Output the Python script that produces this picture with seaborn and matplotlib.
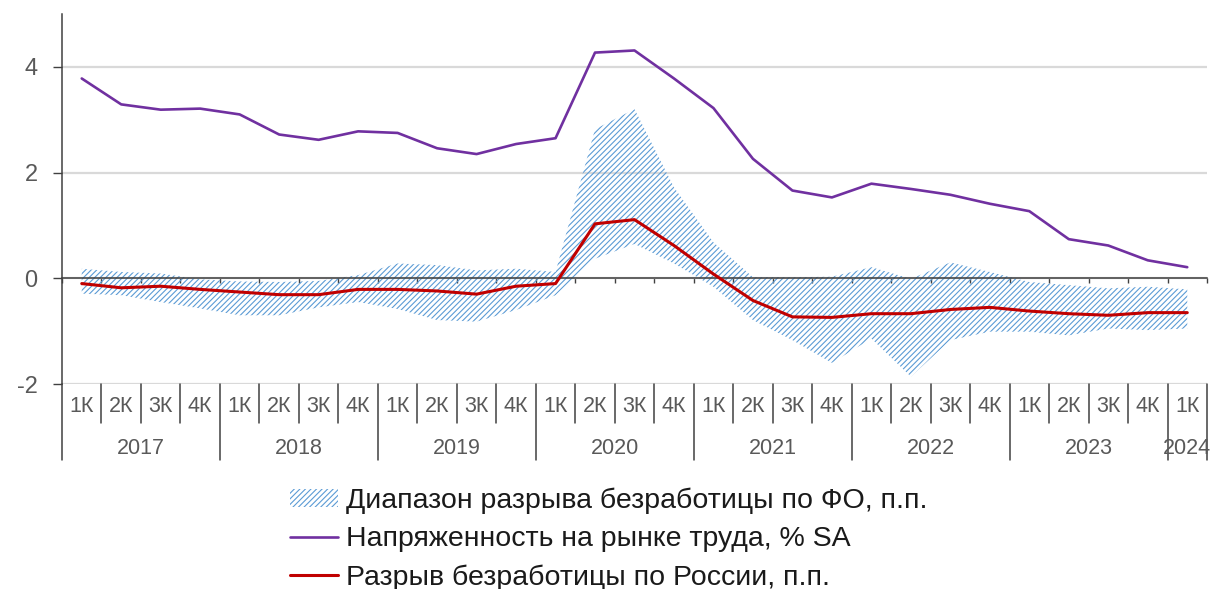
import numpy as np
import pandas as pd
import seaborn as sns
import matplotlib
matplotlib.use("Agg")
import matplotlib.pyplot as plt
import matplotlib.transforms as mtransforms
from matplotlib.patches import Patch
from matplotlib.lines import Line2D

# данные по кварталам: 1К 2017 - 1К 2024
years = ['2017', '2018', '2019', '2020', '2021', '2022', '2023', '2024']
quarters_per_year = [4, 4, 4, 4, 4, 4, 4, 1]
quarter_labels = ['1К', '2К', '3К', '4К'] * 7 + ['1К']

# напряженность на рынке труда, % SA
tension = [3.78, 3.29, 3.19, 3.21, 3.10, 2.72, 2.62, 2.78,
           2.75, 2.46, 2.35, 2.54, 2.65, 4.27, 4.31, 3.78,
           3.22, 2.26, 1.66, 1.53, 1.79, 1.69, 1.58, 1.41,
           1.27, 0.74, 0.62, 0.34, 0.21]
# разрыв безработицы по России, п.п.
gap_russia = [-0.10, -0.18, -0.15, -0.21, -0.26, -0.31, -0.31, -0.21,
              -0.21, -0.24, -0.30, -0.15, -0.10, 1.03, 1.11, 0.62,
              0.08, -0.42, -0.73, -0.74, -0.67, -0.67, -0.59, -0.55,
              -0.62, -0.67, -0.70, -0.65, -0.65]
# диапазон разрыва по ФО (верх / низ)
range_hi = [0.18, 0.12, 0.09, -0.02, -0.06, -0.07, -0.05, 0.06,
            0.28, 0.25, 0.15, 0.18, 0.12, 2.82, 3.20, 1.72,
            0.68, 0.02, 0.02, 0.03, 0.21, -0.01, 0.30, 0.12,
            -0.07, -0.13, -0.19, -0.16, -0.21]
range_lo = [-0.29, -0.32, -0.45, -0.57, -0.70, -0.70, -0.55, -0.45,
            -0.58, -0.79, -0.82, -0.60, -0.32, 0.37, 0.65, 0.28,
            -0.16, -0.79, -1.17, -1.60, -1.14, -1.86, -1.17, -1.01,
            -1.01, -1.08, -0.95, -0.98, -0.95]

df = pd.DataFrame({'idx': np.arange(len(quarter_labels)),
                   'tension': tension, 'gap': gap_russia,
                   'hi': range_hi, 'lo': range_lo})

sns.set_style('white')
plt.rcParams['font.family'] = ['Liberation Sans', 'DejaVu Sans']
plt.rcParams['hatch.linewidth'] = 0.8

purple = '#7030a0'
red = '#c00000'
blue = '#5b9bd5'
grey_txt = '#595959'
dark = '#404040'
hatch = '/' * 6

fig = plt.figure(figsize=(12.11, 5.89), dpi=100)
ax = fig.add_axes([62 / 1211, 1 - 384 / 589, (1207 - 62) / 1211, (384 - 14) / 589])

# диапазон - штриховка
ax.fill_between(df['idx'], df['lo'], df['hi'], facecolor='none',
                edgecolor=blue, hatch=hatch, linewidth=0)
sns.lineplot(data=df, x='idx', y='tension', color=purple, linewidth=1.9, ax=ax)
sns.lineplot(data=df, x='idx', y='gap', color=red, linewidth=2.2, ax=ax)

n = len(quarter_labels)
ax.set_xlim(-0.5, n - 0.5)
ax.set_ylim(-2, 5)
ax.set_xlabel('')
ax.set_ylabel('')

# ось Y
ax.set_yticks([-2, 0, 2, 4])
ax.set_yticklabels(['-2', '0', '2', '4'])
ax.tick_params(axis='y', direction='out', length=6.5, width=1, color=dark,
               labelsize=17, labelcolor=grey_txt, pad=11, left=True)
ax.yaxis.grid(True, color='#d9d9d9', linewidth=1.6)
ax.xaxis.grid(False)

for s in ['top', 'right']:
    ax.spines[s].set_visible(False)
ax.spines['left'].set_color(dark)
ax.spines['left'].set_linewidth(1.1)
ax.spines['bottom'].set_position(('data', 0))
ax.spines['bottom'].set_color(dark)
ax.spines['bottom'].set_linewidth(1.1)
ax.spines['bottom'].set_zorder(1)

bounds = np.arange(n + 1) - 0.5
ax.set_xticks(bounds)
ax.set_xticklabels([])
ax.tick_params(axis='x', direction='out', length=3.5, width=1, color=dark, bottom=True)

# категориальная ось под графиком
trans = mtransforms.blended_transform_factory(ax.transData, ax.transAxes)
year_bounds = np.concatenate([[0], np.cumsum(quarters_per_year)]) - 0.5
for b in bounds:
    bottom = -0.205 if b in year_bounds else -0.105
    ax.plot([b, b], [0, bottom], transform=trans, color=dark, lw=1.1, clip_on=False)

for i, q in enumerate(quarter_labels):
    ax.text(i, -0.062, q, transform=trans, ha='center', va='center',
            fontsize=15.5, color=grey_txt)
for y, a, b in zip(years, year_bounds[:-1], year_bounds[1:]):
    ax.text((a + b) / 2, -0.175, y, transform=trans, ha='center', va='center',
            fontsize=15.5, color=grey_txt)

# легенда
handles = [Patch(facecolor='none', edgecolor=blue, hatch=hatch, linewidth=0),
           Line2D([], [], color=purple, lw=1.9),
           Line2D([], [], color=red, lw=2.2)]
labels = ['Диапазон разрыва безработицы по ФО, п.п.',
          'Напряженность на рынке труда, % SA',
          'Разрыв безработицы по России, п.п.']
fig.legend(handles, labels, loc='upper left', bbox_to_anchor=(290 / 1211, 1 - 488 / 589),
           frameon=False, fontsize=20.5, handlelength=1.7, handleheight=0.6,
           handletextpad=0.25, labelspacing=0.42, labelcolor='#1a1a1a',
           borderaxespad=0, borderpad=0)

fig.savefig('out.png', dpi=100)
